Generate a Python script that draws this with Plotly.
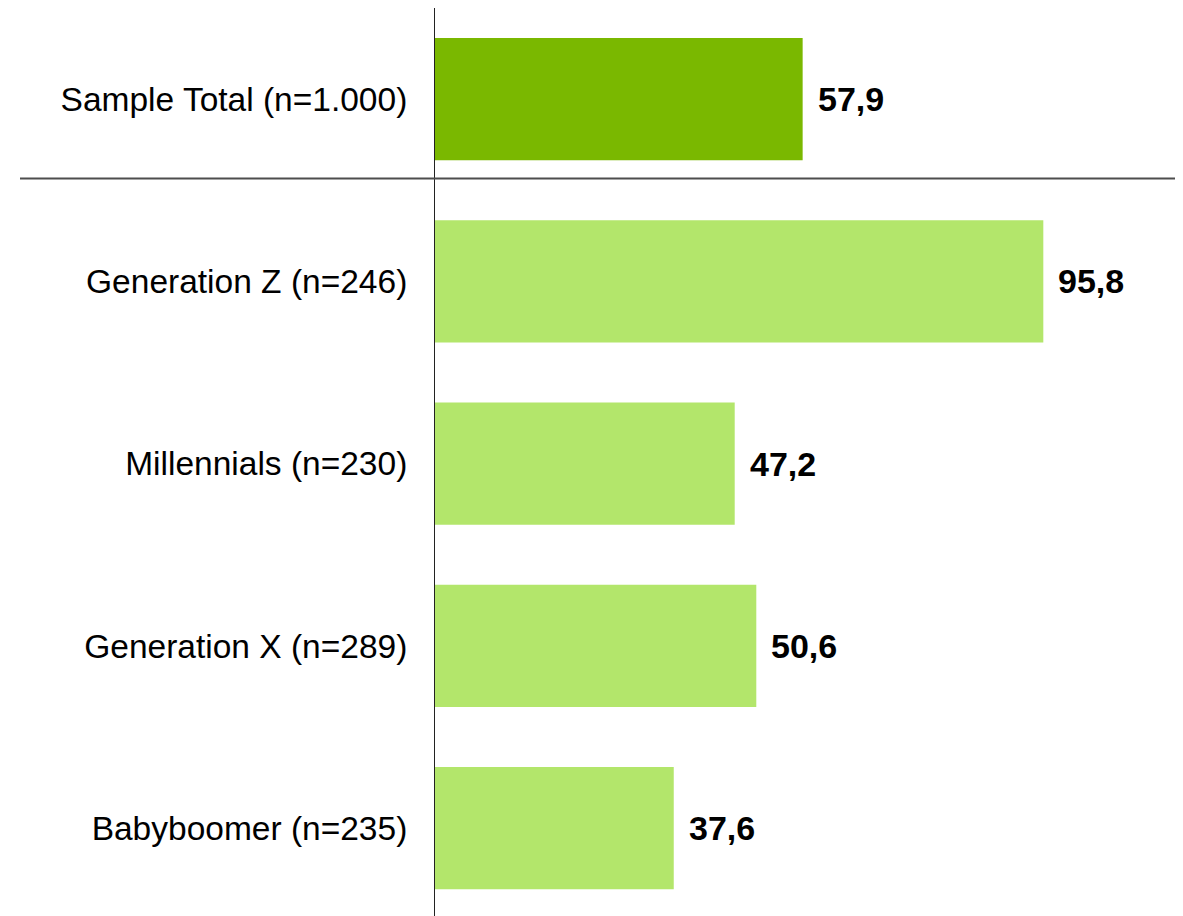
import plotly.graph_objects as go

categories = ["Sample Total (n=1.000)", "Generation Z (n=246)", "Millennials (n=230)",
              "Generation X (n=289)", "Babyboomer (n=235)"]
values = [57.9, 95.8, 47.2, 50.6, 37.6]
value_labels = ["57,9", "95,8", "47,2", "50,6", "37,6"]
bar_colors = ["#7AB800", "#B3E66B", "#B3E66B", "#B3E66B", "#B3E66B"]

FONT = "Liberation Sans, Arial, sans-serif"

fig = go.Figure()
fig.add_trace(go.Bar(
    x=values, y=categories, orientation="h",
    marker=dict(color=bar_colors, line=dict(width=0)),
    width=0.67, hoverinfo="skip", showlegend=False,
))

for v, c, t in zip(values, categories, value_labels):
    fig.add_annotation(x=v, y=c, text="<b>%s</b>" % t, showarrow=False,
                       xanchor="left", yanchor="middle", xshift=13,
                       font=dict(family=FONT, size=34, color="#000000"))

fig.add_shape(type="line", xref="paper", yref="y",
              x0=-0.5548, x1=0.9906, y0=0.435, y1=0.435,
              line=dict(color="#4d4d4d", width=2))

fig.update_layout(
    width=1175, height=908,
    margin=dict(l=427, r=0, t=0, b=0),
    paper_bgcolor="white", plot_bgcolor="white",
    font=dict(family=FONT, size=33.5, color="#000000"),
    xaxis=dict(range=[0, 117.8], visible=False, showgrid=False, zeroline=False),
    yaxis=dict(
        type="category", categoryorder="array", categoryarray=categories,
        range=[4.482, -0.5], showgrid=False, zeroline=False,
        showline=True, linecolor="#222222", linewidth=1,
        ticks="outside", ticklen=20, tickcolor="rgba(0,0,0,0)",
        tickfont=dict(family=FONT, size=33.5, color="#000000"),
    ),
)

fig.write_html("out.html")
